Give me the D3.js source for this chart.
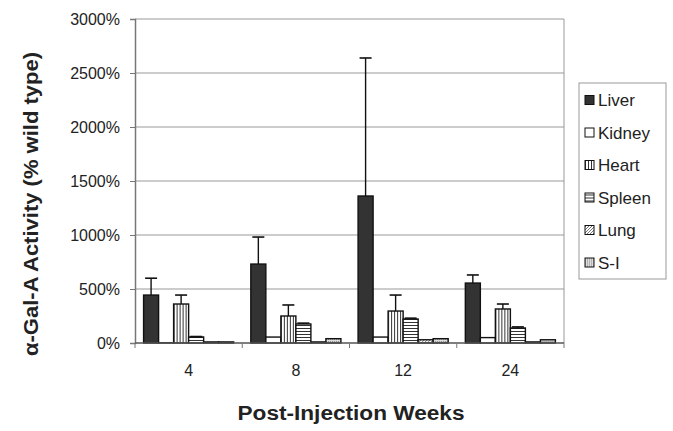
<!DOCTYPE html>
<html>
<head>
<meta charset="utf-8">
<script src="https://cdn.jsdelivr.net/npm/d3@7"></script>
<style>
  body { margin: 0; background: #fff; }
  svg { font-family: "Liberation Sans", Arial, sans-serif; }
</style>
</head>
<body>
<script>
(function(d3) {
  "use strict";

  /***** Données *****/
  const weeks = ["4", "8", "12", "24"];
  const tissues = ["Liver", "Kidney", "Heart", "Spleen", "Lung", "S-I"];
  const liver = [444, 731, 1361, 555];
  const liverErr = [156, 250, 1278, 75];
  const kidney = [2, 55, 55, 50];
  const kidneyErr = [0, 0, 0, 0];
  const heart = [361, 250, 296, 315];
  const heartErr = [83, 102, 148, 46];
  const spleen = [56, 176, 222, 139];
  const spleenErr = [4, 8, 8, 10];
  const lung = [10, 10, 30, 10];
  const lungErr = [0, 0, 0, 0];
  const si = [10, 40, 40, 30];
  const siErr = [0, 0, 0, 0];
  const yTicks = [0, 500, 1000, 1500, 2000, 2500, 3000];

  const values = [liver, kidney, heart, spleen, lung, si];
  const errors = [liverErr, kidneyErr, heartErr, spleenErr, lungErr, siErr];

  /***** Configuration *****/
  const width = 673, height = 431;
  const margin = { top: 19, right: 109, bottom: 88, left: 135 };
  const plotW = width - margin.left - margin.right;
  const plotH = height - margin.top - margin.bottom;

  const x0 = d3.scaleBand().domain(weeks).range([0, plotW]).paddingInner(0.16).paddingOuter(0.08);
  const x1 = d3.scaleBand().domain(tissues).range([0, x0.bandwidth()]);
  const y = d3.scaleLinear().domain([0, 3000]).range([plotH, 0]);

  const svg = d3.select("body").append("svg")
    .attr("width", width)
    .attr("height", height);

  // Motifs de remplissage
  const defs = svg.append("defs");
  const pat = (id, w, h, draw) => {
    const p = defs.append("pattern").attr("id", id)
      .attr("patternUnits", "userSpaceOnUse").attr("width", w).attr("height", h);
    p.append("rect").attr("width", w).attr("height", h).attr("fill", "#fff");
    draw(p);
  };
  pat("vstripe", 3, 3, p => p.append("rect").attr("width", 1).attr("height", 3).attr("fill", "#333"));
  pat("hstripe", 3, 3, p => p.append("rect").attr("width", 3).attr("height", 1).attr("fill", "#333"));
  pat("diag", 3, 3, p => p.append("path").attr("d", "M0,3L3,0").attr("stroke", "#777").attr("stroke-width", 1));
  pat("dots", 2, 2, p => {
    p.select("rect").attr("fill", "#ddd");
    p.append("rect").attr("width", 1).attr("height", 1).attr("fill", "#888");
  });

  const fills = {
    "Liver": "#333",
    "Kidney": "#fff",
    "Heart": "url(#vstripe)",
    "Spleen": "url(#hstripe)",
    "Lung": "url(#diag)",
    "S-I": "url(#dots)"
  };

  const g = svg.append("g")
    .attr("transform", "translate(" + margin.left + "," + margin.top + ")");

  // Grille
  g.append("g").selectAll("line")
    .data(yTicks.filter(t => t > 0))
    .join("line")
    .attr("x1", 0).attr("x2", plotW)
    .attr("y1", d => y(d)).attr("y2", d => y(d))
    .attr("stroke", "#999").attr("stroke-width", 1);

  // Bordure droite
  g.append("line")
    .attr("x1", plotW).attr("x2", plotW).attr("y1", 0).attr("y2", plotH)
    .attr("stroke", "#999");

  // Barres
  const rows = [];
  weeks.forEach((w, i) => {
    tissues.forEach((t, j) => {
      rows.push({ week: w, tissue: t, value: values[j][i], err: errors[j][i] });
    });
  });

  const bars = g.append("g").selectAll("g")
    .data(rows)
    .join("g")
    .attr("transform", d => "translate(" + (x0(d.week) + x1(d.tissue)) + ",0)");

  bars.append("rect")
    .attr("x", 0)
    .attr("width", x1.bandwidth())
    .attr("y", d => y(d.value))
    .attr("height", d => y(0) - y(d.value))
    .attr("fill", d => fills[d.tissue])
    .attr("stroke", "#111")
    .attr("stroke-width", 1.4);

  // Barres d'erreur (vers le haut seulement)
  const eb = bars.filter(d => d.err > 0);
  eb.append("line")
    .attr("x1", x1.bandwidth() / 2).attr("x2", x1.bandwidth() / 2)
    .attr("y1", d => y(d.value)).attr("y2", d => y(d.value + d.err))
    .attr("stroke", "#111").attr("stroke-width", 1.4);
  eb.append("line")
    .attr("x1", x1.bandwidth() / 2 - 6).attr("x2", x1.bandwidth() / 2 + 6)
    .attr("y1", d => y(d.value + d.err)).attr("y2", d => y(d.value + d.err))
    .attr("stroke", "#111").attr("stroke-width", 1.6);

  // Axes
  const yAxis = d3.axisLeft(y).tickValues(yTicks).tickSize(5).tickPadding(10)
    .tickFormat(d => d + "%");
  const ya = g.append("g").call(yAxis);
  ya.select(".domain").attr("stroke", "#777").attr("stroke-width", 1.5);
  ya.selectAll(".tick line").attr("stroke", "#777");
  ya.selectAll("text").attr("font-size", 16).attr("fill", "#222");

  const xa = g.append("g").attr("transform", "translate(0," + plotH + ")");
  xa.append("line").attr("x1", 0).attr("x2", plotW).attr("stroke", "#555").attr("stroke-width", 1.5);
  xa.selectAll(".sep")
    .data(d3.range(weeks.length + 1))
    .join("line")
    .attr("x1", i => i * plotW / weeks.length).attr("x2", i => i * plotW / weeks.length)
    .attr("y1", 0).attr("y2", 5)
    .attr("stroke", "#777");
  xa.selectAll(".lbl")
    .data(weeks)
    .join("text")
    .attr("x", d => x0(d) + x0.bandwidth() / 2)
    .attr("y", 33)
    .attr("text-anchor", "middle")
    .attr("font-size", 16)
    .attr("fill", "#222")
    .text(d => d);

  // Titres des axes
  svg.append("text")
    .attr("x", 351)
    .attr("y", 420)
    .attr("text-anchor", "middle")
    .attr("font-size", 20).attr("font-weight", "bold").attr("fill", "#222")
    .attr("textLength", 227).attr("lengthAdjust", "spacingAndGlyphs")
    .text("Post-Injection Weeks");

  svg.append("text")
    .attr("transform", "translate(38,204) rotate(-90)")
    .attr("text-anchor", "middle")
    .attr("font-size", 20).attr("font-weight", "bold").attr("fill", "#222")
    .attr("textLength", 304).attr("lengthAdjust", "spacingAndGlyphs")
    .text("α-Gal-A Activity (% wild type)");

  // Légende
  const lg = svg.append("g").attr("transform", "translate(579,83)");
  lg.append("rect").attr("width", 87).attr("height", 196)
    .attr("fill", "#fff").attr("stroke", "#999");
  const items = lg.selectAll(".item")
    .data(tissues)
    .join("g")
    .attr("transform", (d, i) => "translate(6," + (17 + i * 32.5) + ")");
  items.append("rect")
    .attr("x", 0).attr("y", -4.5).attr("width", 9).attr("height", 9)
    .attr("fill", d => fills[d]).attr("stroke", "#111");
  items.append("text")
    .attr("x", 13).attr("y", 6)
    .attr("font-size", 17).attr("fill", "#222")
    .text(d => d);
})(d3);
</script>
</body>
</html>
